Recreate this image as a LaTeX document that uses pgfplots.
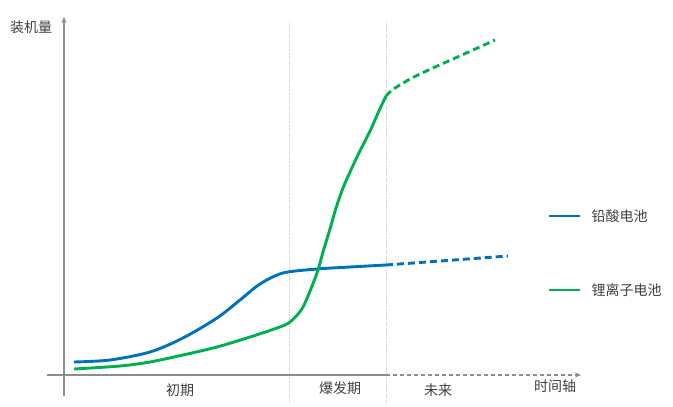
\documentclass[border=0pt]{standalone}
\usepackage{fontspec}
\setmainfont{Noto Sans CJK SC}
\usepackage{pgfplots}
\pgfplotsset{compat=1.18}
\usetikzlibrary{arrows.meta}

\definecolor{leadblue}{HTML}{0070C0}
\definecolor{liongreen}{HTML}{00B050}
\definecolor{axisgray}{HTML}{8C8C8C}
\definecolor{txt}{HTML}{404040}

\begin{document}
\begin{tikzpicture}
\begin{axis}[
	scale only axis,
	width=673pt, height=407pt,
	xmin=0, xmax=673, ymin=0, ymax=407,
	y dir=reverse,
	hide axis,
	clip=false,
]
\path (axis cs:0,0) rectangle (axis cs:673,407);

% period separators
\draw[gray!40, densely dotted, line width=0.8pt] (axis cs:289,22) -- (axis cs:289,402);
\draw[gray!40, densely dotted, line width=0.8pt] (axis cs:386,22) -- (axis cs:386,402);

% axes
\draw[axisgray, line width=1.5pt, -{Stealth[length=6pt,width=5pt]}] (axis cs:64,396) -- (axis cs:64,17);
\draw[axisgray, line width=1.5pt] (axis cs:47,375) -- (axis cs:386,375);
\draw[axisgray, line width=1.5pt, dash pattern=on 4pt off 3pt, -{Stealth[length=6pt,width=5pt]}] (axis cs:386,375) -- (axis cs:581,375);

% lead-acid
\addplot[leadblue, line width=2.9pt, smooth, tension=0.5] coordinates {
	(74,362) (110,360) (150,352) (183,338) (217,318) (240,300)
	(260,284) (283,273) (317,269) (350,267) (386,265)
};
\addplot[leadblue, line width=2.9pt, dash pattern=on 7pt off 4pt] coordinates {
	(386,265) (508,256)
};

% lithium-ion
\addplot[liongreen, line width=2.9pt, smooth, tension=0.5] coordinates {
	(74,369) (120,366) (150,362) (183,355) (217,347) (250,337)
	(277,328) (290,322) (303,307) (317,273) (323,252) (330,229)
	(336,208) (343,188) (350,172) (357,157) (364,143) (371,129)
	(378,113) (386,96)
};
\addplot[liongreen, line width=2.9pt, smooth, tension=0.5, dash pattern=on 7pt off 4pt] coordinates {
	(386,96) (392,90) (400,85) (410,79) (420,74) (435,67) (453,59) (473,50) (495,40)
};

% texts
\node[txt, font=\fontsize{14}{16}\selectfont] at (axis cs:31,27) {装机量};
\node[txt, font=\fontsize{14}{16}\selectfont] at (axis cs:180,390) {初期};
\node[txt, font=\fontsize{14}{16}\selectfont] at (axis cs:340,388) {爆发期};
\node[txt, font=\fontsize{14}{16}\selectfont] at (axis cs:438,390) {未来};
\node[txt, font=\fontsize{14}{16}\selectfont] at (axis cs:555,386) {时间轴};

% legend
\draw[leadblue, line width=2.9pt] (axis cs:549,216) -- (axis cs:580,216);
\node[txt, anchor=west, font=\fontsize{14}{16}\selectfont] at (axis cs:588,216) {铅酸电池};
\draw[liongreen, line width=2.9pt] (axis cs:549,290) -- (axis cs:580,290);
\node[txt, anchor=west, font=\fontsize{14}{16}\selectfont] at (axis cs:588,290) {锂离子电池};
\end{axis}
\end{tikzpicture}
\end{document}
